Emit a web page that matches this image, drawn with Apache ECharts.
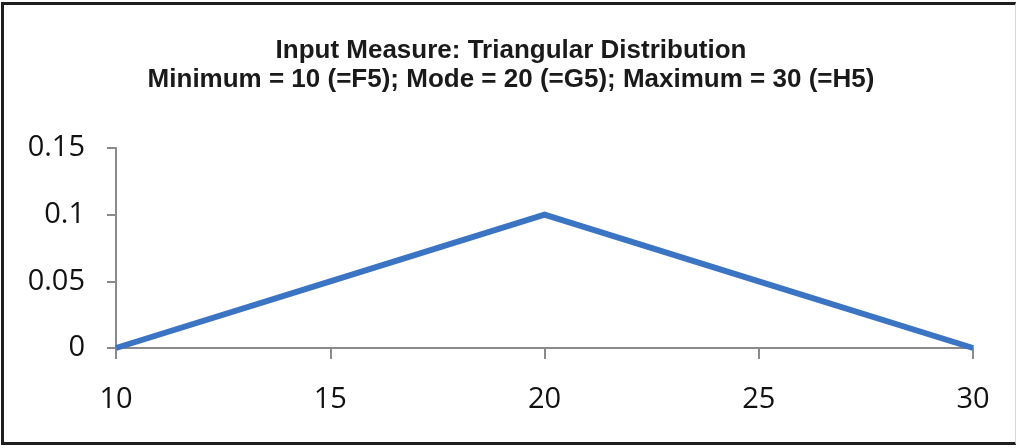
<!DOCTYPE html>
<html>
<head>
<meta charset="utf-8">
<script src="https://cdn.jsdelivr.net/npm/echarts@6/dist/echarts.min.js"></script>
<style>
html,body{margin:0;padding:0;background:#fff;}
#wrap{position:relative;width:1022px;height:448px;}
#chart{position:absolute;left:0;top:0;width:1022px;height:448px;}
#frame{position:absolute;left:1px;top:2px;width:1015px;height:443px;box-sizing:border-box;
  border-top:3px solid #1e1e1e;border-left:3px solid #1e1e1e;border-bottom:3px solid #1e1e1e;border-right:1px solid #d8d8d8;pointer-events:none;}
</style>
</head>
<body>
<div id="wrap">
<div id="chart"></div>
<div id="frame"></div>
</div>
<script>
const titleLines = ["Input Measure: Triangular Distribution", "Minimum = 10 (=F5); Mode = 20 (=G5); Maximum = 30 (=H5)"];
const xValues = [10, 15, 20, 25, 30];
const yValues = [0, 0.05, 0.1, 0.05, 0];
const xTicks = [10, 15, 20, 25, 30];
const yTicks = [0, 0.05, 0.1, 0.15];

const chart = echarts.init(document.getElementById('chart'), null, {renderer:'canvas'});
const labelFont = '"Open Sans", "Liberation Sans", sans-serif';
chart.setOption({
  animation:false,
  backgroundColor:'transparent',
  title:{
    text: titleLines.join('\n'),
    left:'center',
    top:31,
    textStyle:{fontFamily:'"Liberation Sans Narrow", "Arial Narrow", "Liberation Sans", sans-serif', fontWeight:'bold', fontSize:26, lineHeight:29, color:'#1a1a1a'}
  },
  grid:{left:116, right:49, top:148, bottom:100, containLabel:false},
  xAxis:{
    type:'value', min:xTicks[0], max:xTicks[xTicks.length-1], interval:5,
    axisLine:{show:true, lineStyle:{color:'#8a8a8a', width:2}},
    axisTick:{show:true, length:11, lineStyle:{color:'#8a8a8a', width:2}},
    splitLine:{show:false},
    axisLabel:{margin:37, fontFamily:labelFont, fontSize:29, color:'#111'}
  },
  yAxis:{
    type:'value', min:yTicks[0], max:yTicks[yTicks.length-1], interval:0.05,
    axisLine:{show:true, lineStyle:{color:'#8a8a8a', width:2}},
    axisTick:{show:true, length:9, lineStyle:{color:'#8a8a8a', width:2}},
    splitLine:{show:false},
    axisLabel:{margin:31, fontFamily:labelFont, fontSize:29, color:'#111',
      formatter:function(v){return String(Math.round(v*100)/100);}}
  },
  series:[{
    type:'line',
    data:xValues.map((x,i)=>[x,yValues[i]]),
    showSymbol:false,
    lineStyle:{color:'#3b74c3', width:6, join:'miter'},
    itemStyle:{color:'#3b74c3'}
  }]
});
</script>
</body>
</html>
